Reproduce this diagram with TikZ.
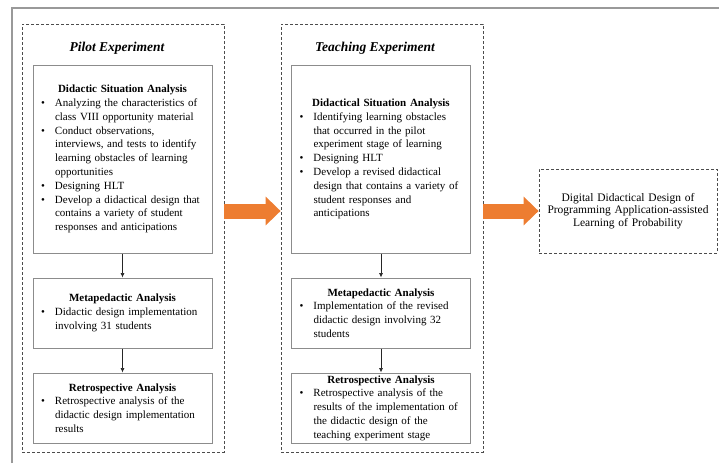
\documentclass[tikz,border=0pt]{standalone}
\usepackage{fontspec}
\setmainfont{Liberation Serif}
\usetikzlibrary{arrows.meta}

\definecolor{arroworange}{HTML}{ED7D31}
\newdimen\itmdp
\newcommand{\hd}[1]{\noindent\makebox[\linewidth]{\bfseries #1}}
\newcommand{\itm}[1]{\par\noindent\makebox[18pt][l]{\hspace{4pt}\textbullet}%
  \parbox[t]{\dimexpr\linewidth-18pt\relax}{\raggedright #1\par\global\itmdp=\prevdepth}%
  \par\prevdepth=\itmdp}

\tikzset{
  group/.style={draw=black!70, densely dashed, line width=0.8pt, inner sep=0pt},
  heading/.style={font=\fontsize{13.5}{16}\selectfont\bfseries\itshape},
  stage/.style={draw=black!45, line width=1pt, inner xsep=4pt, inner ysep=0pt,
    text width=171pt, minimum width=179pt, align=left, font=\fontsize{11}{13.8}\selectfont},
  flow/.style={draw=black!85, line width=0.7pt, -{Latex[length=4.5pt,width=4pt]}},
  bigarrow/.style={draw=arroworange, line width=15pt, -{Triangle[length=15pt,width=28pt]}},
}

\begin{document}
\begin{tikzpicture}[x=1pt,y=-1pt]
\useasboundingbox (0,0) rectangle (719,463);
\draw[black!40, line width=1.5pt] (12,463) -- (12,8) -- (719,8);

\node[group, minimum width=202pt, minimum height=428pt] (pilot) at (123,238) {};
\node[heading] (pilottitle) at (117,48) {Pilot Experiment};
\node[stage, minimum height=188pt] (pdsa) at (122.5,159) {\hd{Didactic Situation Analysis}
\itm{Analyzing the characteristics of\\class VIII opportunity material}
\itm{Conduct observations,\\interviews, and tests to identify\\learning obstacles of learning\\opportunities}
\itm{Designing HLT}
\itm{Develop a didactical design that\\contains a variety of student\\responses and anticipations}};
\node[stage, minimum height=70pt] (pmeta) at (122.5,313) {\hd{Metapedactic Analysis}
\itm{Didactic design implementation\\involving 31 students}};
\node[stage, minimum height=70pt] (pretro) at (122.5,408) {\hd{Retrospective Analysis}
\itm{Retrospective analysis of the\\didactic design implementation\\results}};
\draw[flow] (pdsa) -- (pmeta);
\draw[flow] (pmeta) -- (pretro);

\node[group, minimum width=202pt, minimum height=428pt] (teach) at (382,238) {};
\node[heading] (teachtitle) at (375,48) {Teaching Experiment};
\node[stage, minimum height=188pt] (tdsa) at (381,159) {\hd{Didactical Situation Analysis}
\itm{Identifying learning obstacles\\that occurred in the pilot\\experiment stage of learning}
\itm{Designing HLT}
\itm{Develop a revised didactical\\design that contains a variety of\\student responses and\\anticipations}};
\node[stage, minimum height=70pt] (tmeta) at (381,313) {\hd{Metapedactic Analysis}
\itm{Implementation of the revised\\didactic design involving 32\\students}};
\node[stage, minimum height=70pt] (tretro) at (381,408) {\hd{Retrospective Analysis}
\itm{Retrospective analysis of the\\results of the implementation of\\the didactic design of the\\teaching experiment stage}};
\draw[flow] (tdsa) -- (tmeta);
\draw[flow] (tmeta) -- (tretro);

\node[group, text width=170pt, inner xsep=4pt, minimum height=84pt, align=center,
  font=\fontsize{11.5}{12.8}\selectfont] (result) at (628,211)
  {Digital Didactical Design of\\Programming Application-assisted\\Learning of Probability};

\draw[bigarrow] (pilot.east |- result) -- (teach.west |- result);
\draw[bigarrow] (teach.east |- result) -- (result.west);

\end{tikzpicture}
\end{document}
